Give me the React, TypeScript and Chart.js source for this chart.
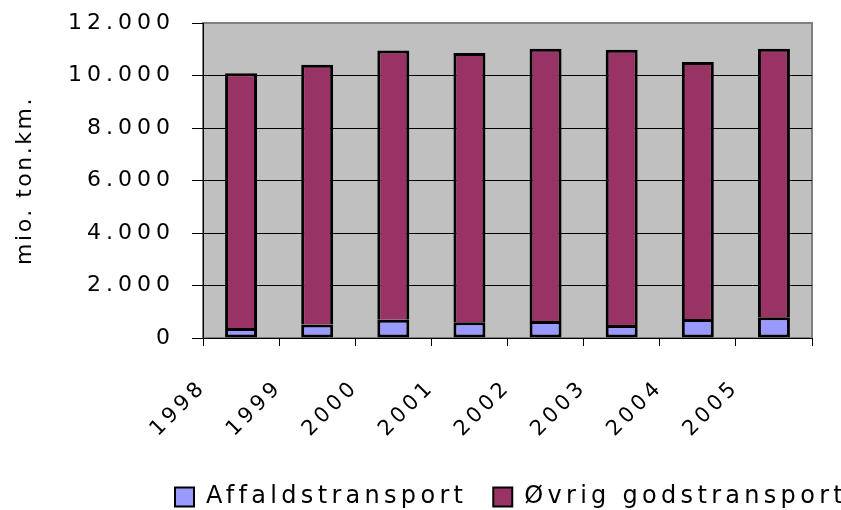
import React, { useEffect, useRef } from "react";
import { Chart, registerables } from "chart.js";

Chart.register(...registerables);

const years = ["1998", "1999", "2000", "2001", "2002", "2003", "2004", "2005"];
const affaldstransport = [380, 510, 700, 600, 650, 500, 720, 790];
const oevrigGodstransport = [9710, 9900, 10250, 10260, 10370, 10480, 9790, 10230];
const yTickValues = [0, 2000, 4000, 6000, 8000, 10000, 12000];
const seriesNames = ["Affaldstransport", "Øvrig godstransport"];
const yTitle = "mio. ton.km.";

const fmt = (v: number) => String(v).replace(/\B(?=(\d{3})+(?!\d))/g, ".");

const FONT = "'DejaVu Sans', sans-serif";
const LEGEND_PAD = 26;
const LEGEND_SPACING = "4.3px";

function withSpacing(obj: any, method: string, spacing: string) {
  const orig = obj[method].bind(obj);
  obj[method] = function (...args: any[]) {
    const ctx = this.ctx;
    const prev = ctx.letterSpacing;
    ctx.letterSpacing = spacing;
    orig(...args);
    ctx.letterSpacing = prev;
  };
}

const stylePlugin = {
  id: "stylePlugin",
  beforeUpdate(chart: any) {
    chart.ctx.letterSpacing = LEGEND_SPACING;
  },
  beforeLayout(chart: any) {
    chart.ctx.letterSpacing = LEGEND_SPACING;
  },
  afterLayout(chart: any) {
    const lg = chart.legend;
    if (lg) {
      lg.left = 175 - LEGEND_PAD;
      lg.right = 2000;
      lg.top = 497 - LEGEND_PAD - 12;
      lg.bottom = lg.top + lg.height;
    }
    const y = chart.scales.y;
    if (y && !y._tsPatched) {
      withSpacing(y, "drawTitle", "2.5px");
      withSpacing(y, "drawLabels", "5px");
      y._tsPatched = true;
    }
    const x = chart.scales.x;
    if (x && !x._tsPatched) {
      withSpacing(x, "drawLabels", "4px");
      x._tsPatched = true;
    }
  },
  beforeDraw(chart: any) {
    const { ctx, chartArea: a } = chart;
    ctx.letterSpacing = LEGEND_SPACING;
    ctx.save();
    ctx.fillStyle = "#c0c0c0";
    ctx.fillRect(a.left, a.top, a.right - a.left, a.bottom - a.top);
    ctx.strokeStyle = "#808080";
    ctx.lineWidth = 2;
    ctx.strokeRect(a.left, a.top, a.right - a.left, a.bottom - a.top);
    ctx.restore();
  },
};

export default function App() {
  const ref = useRef<HTMLCanvasElement>(null);

  useEffect(() => {
    document.body.style.margin = "0";
    const canvas = ref.current;
    if (!canvas) return;
    const chart = new Chart(canvas, {
      type: "bar",
      data: {
        labels: years,
        datasets: [
          {
            label: seriesNames[0],
            data: affaldstransport,
            backgroundColor: "#9999ff",
            borderColor: "#000000",
            borderWidth: 3,
            borderSkipped: false,
            barPercentage: 0.42,
            categoryPercentage: 1,
          },
          {
            label: seriesNames[1],
            data: oevrigGodstransport,
            backgroundColor: "#993366",
            borderColor: "#000000",
            borderWidth: { top: 3, left: 3, right: 3, bottom: 0 },
            borderSkipped: false,
            barPercentage: 0.42,
            categoryPercentage: 1,
          },
        ],
      },
      options: {
        responsive: false,
        animation: false,
        events: [],
        font: { family: FONT },
        layout: { padding: { top: 23, left: 0, right: 29, bottom: 0 } },
        plugins: {
          tooltip: { enabled: false },
          legend: {
            display: true,
            position: "bottom",
            align: "start",
            labels: {
              color: "#000",
              font: { size: 24, family: FONT },
              boxWidth: 19,
              boxHeight: 19,
              padding: LEGEND_PAD,
              generateLabels(chart: any) {
                const items = (Chart.defaults.plugins.legend.labels as any).generateLabels(chart);
                return items.map((it: any) => ({ ...it, lineWidth: 2, strokeStyle: "#000" }));
              },
            },
          },
        },
        scales: {
          x: {
            stacked: true,
            ticks: {
              color: "#000",
              font: { size: 21, family: FONT },
              minRotation: 45,
              maxRotation: 45,
              labelOffset: -38,
              padding: 29,
              autoSkip: false,
            },
            grid: {
              drawOnChartArea: false,
              color: "#000",
              tickColor: "#000",
              tickLength: 8,
              offset: true,
            },
            border: { color: "#000", width: 1 },
            afterFit(s: any) {
              const lh = s.chart.legend ? s.chart.legend.height : 0;
              s.height = 510 - 338 - lh;
            },
          },
          y: {
            stacked: true,
            min: 0,
            max: 12000,
            afterBuildTicks(s: any) {
              s.ticks = yTickValues.map((v) => ({ value: v }));
            },
            ticks: {
              color: "#000",
              font: { size: 22, family: FONT },
              padding: 17,
              callback: (v: any) => fmt(Number(v)),
            },
            grid: {
              color: (c: any) => (c.tick && c.tick.value === 12000 ? "#808080" : "#000"),
              tickColor: "#000",
              tickLength: 11,
              lineWidth: 1,
            },
            border: { color: "#000", width: 1 },
            title: {
              display: true,
              text: yTitle,
              color: "#000",
              font: { size: 22, family: FONT },
              padding: { top: 12, bottom: 0 },
            },
            afterFit(s: any) {
              s.width = 203;
              s.paddingTop = 0;
              s.paddingBottom = 0;
            },
          },
        },
      },
      plugins: [stylePlugin],
    } as any);
    return () => chart.destroy();
  }, []);

  return <canvas ref={ref} width={841} height={510} style={{ display: "block" }} />;
}
